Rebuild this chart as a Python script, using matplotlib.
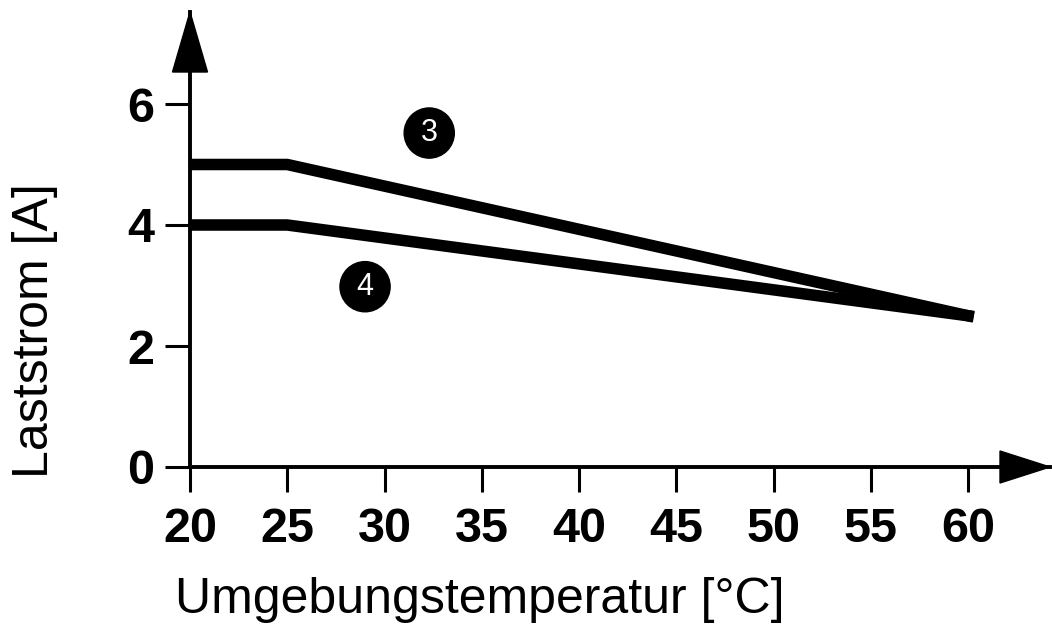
import matplotlib
matplotlib.use("Agg")
import matplotlib.pyplot as plt
from matplotlib.patches import Polygon

# Data
temperature = [20, 25, 60]
current_3 = [5.0, 5.0, 2.5]
current_4 = [4.0, 4.0, 2.5]
x_ticks = [20, 25, 30, 35, 40, 45, 50, 55, 60]
y_ticks = [0, 2, 4, 6]
label_3 = "3"
label_4 = "4"
xlabel = "Umgebungstemperatur [°C]"
ylabel = "Laststrom [A]"

plt.rcParams['font.family'] = ['Liberation Sans', 'DejaVu Sans']

W, H = 1052, 629
fig = plt.figure(figsize=(W / 100, H / 100), dpi=100)
ax_l, ax_r, ax_b, ax_t = 190, 1050, 467, 12
ax = fig.add_axes([ax_l / W, 1 - ax_b / H, (ax_r - ax_l) / W, (ax_b - ax_t) / H])
ax.set_xlim(20, 20 + (ax_r - ax_l) / 19.45)
ax.set_ylim(0, (ax_b - ax_t) / 60.5)

for s in ['top', 'right']:
    ax.spines[s].set_visible(False)
for s in ['left', 'bottom']:
    ax.spines[s].set_linewidth(2.8)
    ax.spines[s].set_color('black')

ax.plot(temperature, current_3, color='black', lw=8.3, solid_capstyle='projecting',
        solid_joinstyle='miter')
ax.plot(temperature, current_4, color='black', lw=8.3, solid_capstyle='projecting',
        solid_joinstyle='miter')

ax.set_xticks(x_ticks)
ax.set_yticks(y_ticks)
ax.tick_params(axis='both', direction='out', length=18, width=2.2, labelsize=35)
ax.tick_params(axis='x', pad=11)
ax.tick_params(axis='y', pad=8)
for lab in ax.get_xticklabels() + ax.get_yticklabels():
    lab.set_fontweight('bold')

ax.set_xlabel(xlabel, fontsize=36)
ax.set_ylabel(ylabel, fontsize=36)
ax.xaxis.set_label_coords((480 - ax_l) / (ax_r - ax_l), (ax_b - 600) / (ax_b - ax_t))
ax.yaxis.set_label_coords((35 - ax_l) / (ax_r - ax_l), (ax_b - 331) / (ax_b - ax_t))
ax.xaxis.label.set_va('center')
ax.yaxis.label.set_va('center')

# Arrow heads
aw, ah = ax_r - ax_l, ax_b - ax_t
yarrow = Polygon([[0, 1], [-17.5 / aw, 1 - 60 / ah], [17.5 / aw, 1 - 60 / ah]],
                 closed=True, transform=ax.transAxes, color='black', clip_on=False)
xarrow = Polygon([[1, 0], [1 - 50 / aw, 16 / ah], [1 - 50 / aw, -16 / ah]],
                 closed=True, transform=ax.transAxes, color='black', clip_on=False)
ax.add_patch(yarrow)
ax.add_patch(xarrow)

# Circled labels
for txt, (x, y) in [(label_3, (32.3, 5.52)), (label_4, (29.0, 2.98))]:
    ax.text(x, y, txt, color='white', fontsize=22, ha='center', va='center',
            bbox=dict(boxstyle='circle,pad=0.33', fc='black', ec='black'))

fig.savefig("out.png", dpi=100)
